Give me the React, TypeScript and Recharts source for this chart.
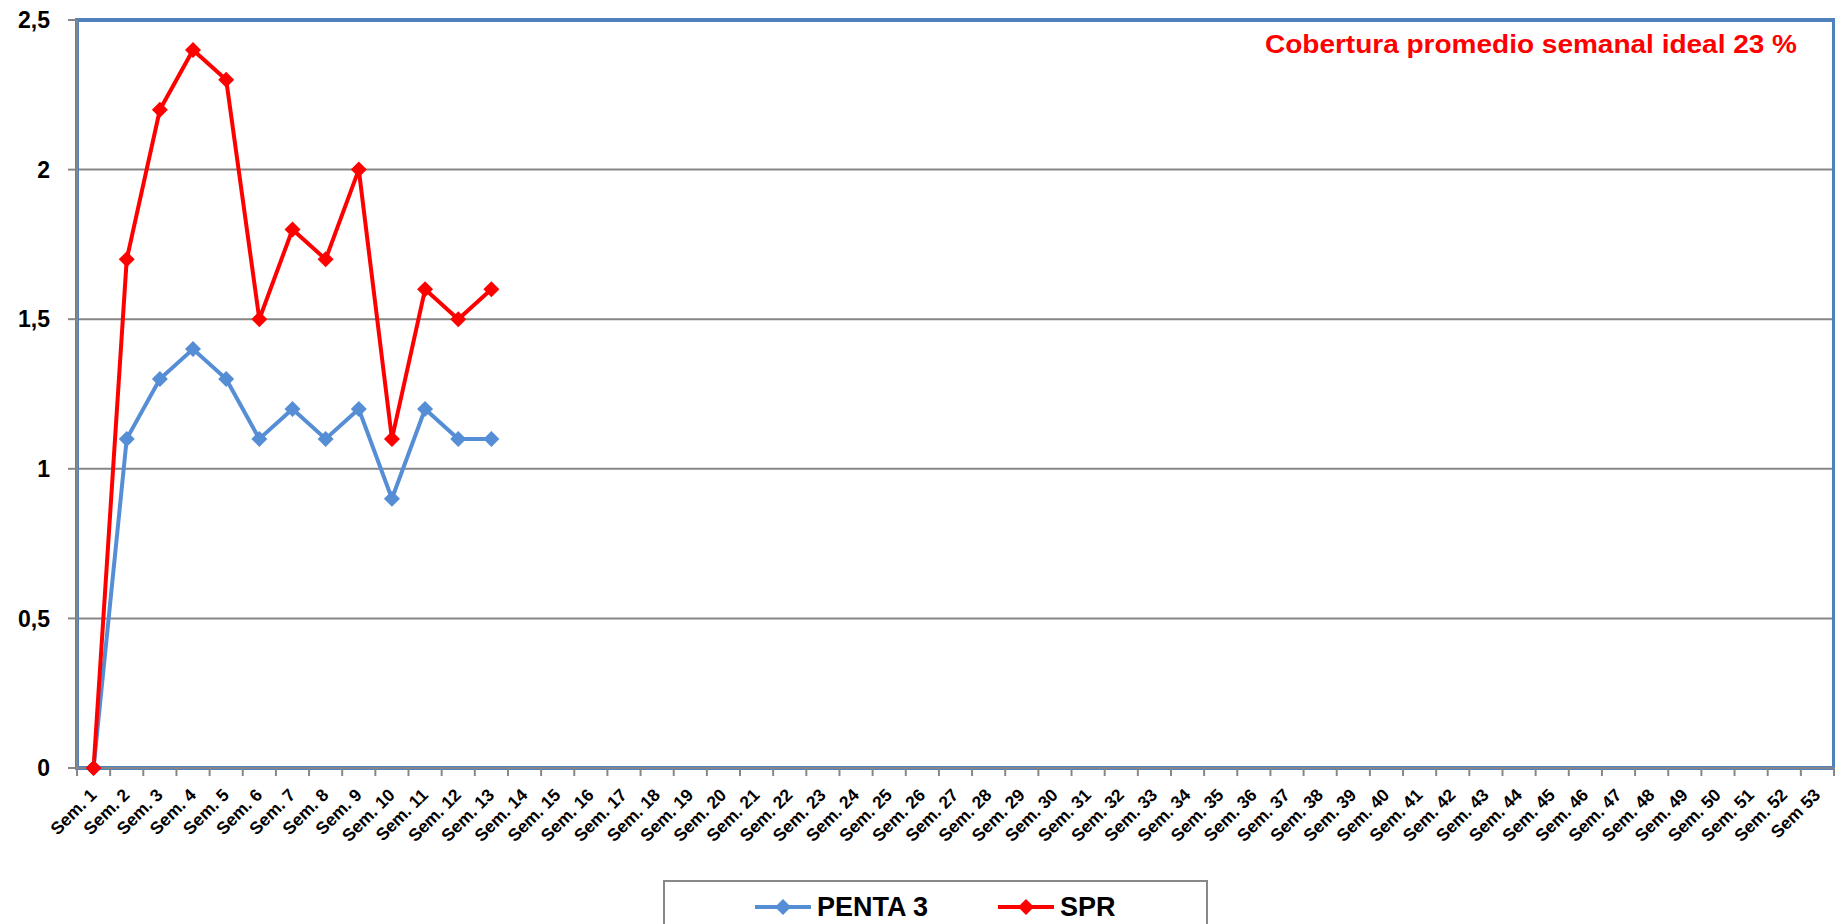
import React from "react";
import {
  LineChart,
  Line,
  XAxis,
  YAxis,
  CartesianGrid,
  ReferenceArea,
  Legend,
} from "recharts";

const weeks = [
  "Sem. 1", "Sem. 2", "Sem. 3", "Sem. 4", "Sem. 5", "Sem. 6", "Sem. 7", "Sem. 8", "Sem. 9", "Sem. 10",
  "Sem. 11", "Sem. 12", "Sem. 13", "Sem. 14", "Sem. 15", "Sem. 16", "Sem. 17", "Sem. 18", "Sem. 19", "Sem. 20",
  "Sem. 21", "Sem. 22", "Sem. 23", "Sem. 24", "Sem. 25", "Sem. 26", "Sem. 27", "Sem. 28", "Sem. 29", "Sem. 30",
  "Sem. 31", "Sem. 32", "Sem. 33", "Sem. 34", "Sem. 35", "Sem. 36", "Sem. 37", "Sem. 38", "Sem. 39", "Sem. 40",
  "Sem. 41", "Sem. 42", "Sem. 43", "Sem. 44", "Sem. 45", "Sem. 46", "Sem. 47", "Sem. 48", "Sem. 49", "Sem. 50",
  "Sem. 51", "Sem. 52", "Sem 53",
];

const penta3 = [0, 1.1, 1.3, 1.4, 1.3, 1.1, 1.2, 1.1, 1.2, 0.9, 1.2, 1.1, 1.1];
const spr = [0, 1.7, 2.2, 2.4, 2.3, 1.5, 1.8, 1.7, 2.0, 1.1, 1.6, 1.5, 1.6];

const yTicks = [0, 0.5, 1, 1.5, 2, 2.5];

const TITLE = "Cobertura promedio semanal ideal 23 %";

const W = 1835;
const H = 924;
const M_LEFT = 77;
const M_RIGHT = 1;
const PLOT_W = W - M_LEFT - M_RIGHT;
const BAND = PLOT_W / weeks.length;

const BLUE = "#558ED5";
const RED = "#FF0000";
const GRID = "#868686";
const FRAME = "#4F81BD";

const data = weeks.map((w, i) => ({
  week: w,
  penta3: i < penta3.length ? penta3[i] : null,
  spr: i < spr.length ? spr[i] : null,
}));

// rombo como en excel
const Diamond = (props: any) => {
  const { cx, cy, stroke, value } = props;
  if (value == null || cx == null || cy == null) return null;
  const r = 8;
  return (
    <polygon
      points={`${cx},${cy - r} ${cx + r},${cy} ${cx},${cy + r} ${cx - r},${cy}`}
      fill={stroke}
    />
  );
};

const WeekTick = (props: any) => {
  const { x, y, payload, index } = props;
  const left = x - BAND / 2;
  const tx = x + 4;
  const ty = y + 28;
  return (
    <g>
      <line x1={left} x2={left} y1={y} y2={y + 8} stroke={GRID} strokeWidth={2} />
      {index === weeks.length - 1 && (
        <line x1={left + BAND} x2={left + BAND} y1={y} y2={y + 8} stroke={GRID} strokeWidth={2} />
      )}
      <text
        x={tx}
        y={ty}
        textAnchor="end"
        transform={`rotate(-45, ${tx}, ${ty})`}
        fontSize={17.5}
        fontWeight={700}
        fill="#000"
      >
        {payload.value}
      </text>
    </g>
  );
};

const TitleLabel = (props: any) => {
  const { viewBox } = props;
  if (!viewBox) return null;
  return (
    <text
      x={viewBox.x + viewBox.width - 37}
      y={viewBox.y + 33}
      textAnchor="end"
      fill={RED}
      fontSize={25}
      fontWeight={700}
      textLength={532}
      lengthAdjust="spacingAndGlyphs"
    >
      {TITLE}
    </text>
  );
};

const LegendBox = (props: any) => {
  const items = (props.payload || []) as any[];
  return (
    <div
      style={{
        width: 545,
        height: 60,
        boxSizing: "border-box",
        border: "2px solid #888",
        background: "#fff",
        display: "flex",
        alignItems: "flex-start",
        paddingLeft: 90,
        paddingTop: 10,
        gap: 70,
      }}
    >
      {items.map((it) => (
        <div key={it.value} style={{ display: "flex", alignItems: "center" }}>
          <svg width={56} height={20}>
            <line x1={0} x2={56} y1={10} y2={10} stroke={it.color} strokeWidth={4} />
            <polygon points="28,2 36,10 28,18 20,10" fill={it.color} />
          </svg>
          <span
            style={{
              marginLeft: 6,
              fontSize: 27,
              fontWeight: 700,
              color: "#000",
              lineHeight: "30px",
            }}
          >
            {it.value}
          </span>
        </div>
      ))}
    </div>
  );
};

export default function App() {
  return (
    <div
      style={{
        position: "absolute",
        left: 0,
        top: 0,
        width: W,
        height: H,
        background: "#fff",
        fontFamily: "'Liberation Sans', Arial, sans-serif",
      }}
    >
      <LineChart
        width={W}
        height={H}
        data={data}
        margin={{ top: 20, right: M_RIGHT, left: 0, bottom: 0 }}
      >
        <CartesianGrid vertical={false} stroke={GRID} strokeWidth={2} />
        <XAxis
          dataKey="week"
          type="category"
          scale="band"
          interval={0}
          height={96}
          tickLine={false}
          tickSize={0}
          tickMargin={0}
          axisLine={{ stroke: GRID, strokeWidth: 2 }}
          tick={<WeekTick />}
        />
        <YAxis
          type="number"
          domain={[0, 2.5]}
          ticks={yTicks}
          width={M_LEFT}
          tickSize={9}
          tickMargin={18}
          tickLine={{ stroke: GRID, strokeWidth: 2 }}
          axisLine={{ stroke: GRID, strokeWidth: 2 }}
          tick={{ fill: "#000", fontSize: 23, fontWeight: 700 }}
          tickFormatter={(v: number) => String(v).replace(".", ",")}
        />
        <ReferenceArea
          y1={0}
          y2={2.5}
          fill="none"
          stroke={FRAME}
          strokeWidth={4}
          ifOverflow="visible"
          label={<TitleLabel />}
        />
        <Legend
          content={<LegendBox />}
          wrapperStyle={{ position: "absolute", left: 663, top: 880, width: 545, height: 60 }}
        />
        <Line
          name="PENTA 3"
          dataKey="penta3"
          type="linear"
          stroke={BLUE}
          strokeWidth={4}
          dot={<Diamond />}
          activeDot={false}
          isAnimationActive={false}
        />
        <Line
          name="SPR"
          dataKey="spr"
          type="linear"
          stroke={RED}
          strokeWidth={4}
          dot={<Diamond />}
          activeDot={false}
          isAnimationActive={false}
        />
      </LineChart>
    </div>
  );
}
